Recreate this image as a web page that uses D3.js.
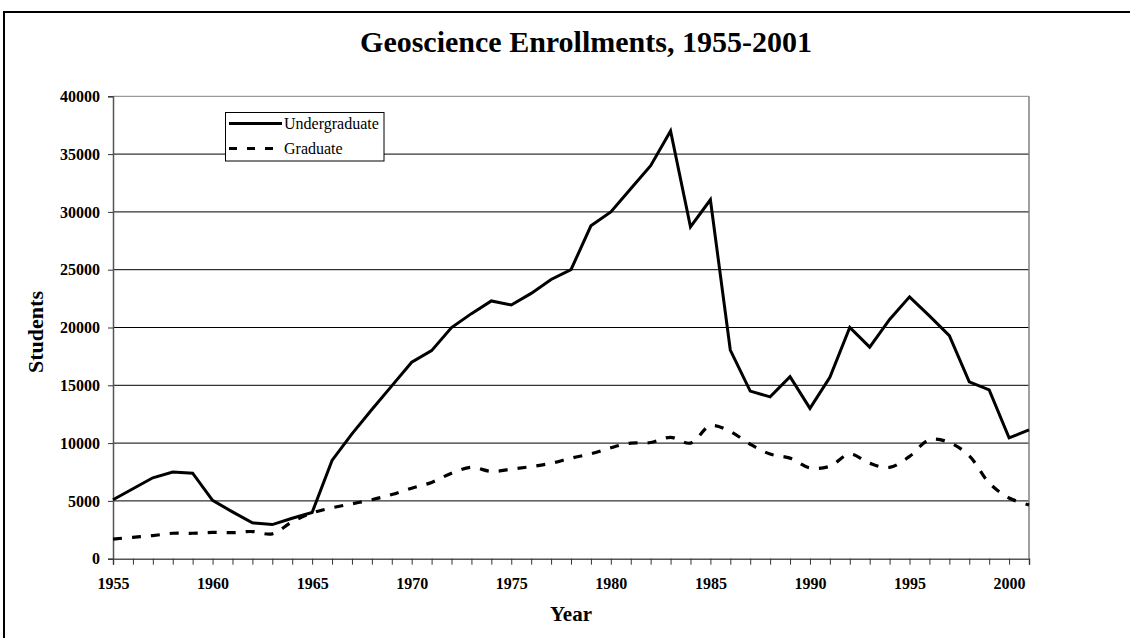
<!DOCTYPE html>
<html>
<head>
<meta charset="utf-8">
<script src="https://cdn.jsdelivr.net/npm/d3@7"></script>
<style>
  body { margin: 0; background: #fff; }
  svg { display: block; font-family: "Liberation Serif", "Times New Roman", serif; }
</style>
</head>
<body>
<svg id="chart" width="1130" height="638"></svg>
<script>
// data
var years = [1955, 1956, 1957, 1958, 1959, 1960, 1961, 1962, 1963, 1964,
             1965, 1966, 1967, 1968, 1969, 1970, 1971, 1972, 1973, 1974,
             1975, 1976, 1977, 1978, 1979, 1980, 1981, 1982, 1983, 1984,
             1985, 1986, 1987, 1988, 1989, 1990, 1991, 1992, 1993, 1994,
             1995, 1996, 1997, 1998, 1999, 2000, 2001];
var undergraduate = [5100, 6050, 7000, 7500, 7400, 5050, 4050, 3100, 2950, 3500,
                     4000, 8500, 10800, 12900, 14950, 17000, 18000, 20000, 21200, 22300,
                     21950, 22950, 24150, 25000, 28800, 30000, 32000, 34000, 37000, 28700,
                     31050, 18050, 14500, 14000, 15750, 13000, 15700, 20000, 18300, 20700,
                     22650, 21000, 19300, 15300, 14600, 10450, 11150];
var graduate = [1700, 1850, 2000, 2200, 2200, 2270, 2250, 2350, 2150, 3200,
                3950, 4400, 4750, 5100, 5550, 6100, 6600, 7400, 7900, 7550,
                7750, 7970, 8250, 8700, 9070, 9600, 10000, 10050, 10500, 10000,
                11500, 11000, 9900, 9050, 8700, 7850, 8000, 9050, 8250, 7900,
                8850, 10300, 10050, 8900, 6550, 5250, 4650];
var xTickLabels = [1955, 1960, 1965, 1970, 1975, 1980, 1985, 1990, 1995, 2000];
var yTickValues = [0, 5000, 10000, 15000, 20000, 25000, 30000, 35000, 40000];
var seriesNames = ["Undergraduate", "Graduate"];

var svg = d3.select("#chart");
var plotLeft = 113, plotRight = 1029, plotTop = 96.3, plotBottom = 558.7;

// outer frame
svg.append("rect")
    .attr("x", 4).attr("y", 12)
    .attr("width", 1140).attr("height", 700)
    .attr("fill", "none")
    .attr("stroke", "#000")
    .attr("stroke-width", 2);

var x = d3.scaleLinear().domain([1955, 2001]).range([plotLeft, plotRight]);
var y = d3.scaleLinear().domain([0, 40000]).range([plotBottom, plotTop]);

// gridlines
svg.append("g")
    .selectAll("line")
    .data(yTickValues.slice(1))
    .enter().append("line")
      .attr("x1", plotLeft).attr("x2", plotRight)
      .attr("y1", function(d) { return y(d); })
      .attr("y2", function(d) { return y(d); })
      .attr("stroke", function(d) { return d == 40000 ? "#808080" : "#000"; })
      .attr("stroke-width", 1);

// right border of plot
svg.append("line")
    .attr("x1", plotRight).attr("x2", plotRight)
    .attr("y1", plotTop).attr("y2", plotBottom)
    .attr("stroke", "#808080").attr("stroke-width", 1.5);

// y axis
var yAxis = d3.axisLeft(y).tickValues(yTickValues).tickSize(5).tickPadding(8)
    .tickFormat(d3.format("d"));
var gy = svg.append("g")
    .attr("transform", "translate(" + plotLeft + ",0)")
    .call(yAxis);

// x axis: a tick every year, labels every five
var xAxis = d3.axisBottom(x).tickValues(years).tickSize(6).tickPadding(13)
    .tickFormat(function(d) { return xTickLabels.indexOf(d) >= 0 ? d : ""; });
var gx = svg.append("g")
    .attr("transform", "translate(0," + plotBottom + ")")
    .call(xAxis);

[gx, gy].forEach(function(g) {
    g.select(".domain").attr("stroke", "#555").attr("stroke-width", 1.5);
    g.selectAll(".tick line").attr("stroke", "#333");
    g.selectAll("text")
        .attr("fill", "#000")
        .style("font-family", "Liberation Serif, serif")
        .style("font-size", "16px")
        .style("font-weight", "bold");
});

// lines
var lineStraight = d3.line()
    .x(function(d, i) { return x(years[i]); })
    .y(function(d) { return y(d); });
var lineSmooth = d3.line()
    .x(function(d, i) { return x(years[i]); })
    .y(function(d) { return y(d); })
    .curve(d3.curveCatmullRom.alpha(0.5));

svg.append("path")
    .datum(undergraduate)
    .attr("d", lineStraight)
    .attr("fill", "none")
    .attr("stroke", "#000")
    .attr("stroke-width", 3)
    .attr("stroke-linejoin", "miter");

svg.append("path")
    .datum(graduate)
    .attr("d", lineSmooth)
    .attr("fill", "none")
    .attr("stroke", "#000")
    .attr("stroke-width", 3.2)
    .attr("stroke-dasharray", "9,10");

// title
svg.append("text")
    .attr("x", 586).attr("y", 52)
    .attr("text-anchor", "middle")
    .style("font-size", "30px")
    .style("font-weight", "bold")
    .text("Geoscience Enrollments, 1955-2001");

// axis titles
svg.append("text")
    .attr("x", (plotLeft + plotRight) / 2).attr("y", 621)
    .attr("text-anchor", "middle")
    .style("font-size", "21px")
    .style("font-weight", "bold")
    .text("Year");

svg.append("g")
    .attr("transform", "translate(43," + 332 + ")")
    .append("text")
    .attr("text-anchor", "middle")
    .attr("transform", "rotate(-90)")
    .style("font-size", "22px")
    .style("font-weight", "bold")
    .text("Students");

// legend
var legend = svg.append("g");
legend.append("rect")
    .attr("x", 225.5).attr("y", 112.5)
    .attr("width", 158.5).attr("height", 48.5)
    .attr("fill", "#fff")
    .attr("stroke", "#000")
    .attr("stroke-width", 1);

var legendRows = legend.selectAll("g.row")
    .data(seriesNames)
    .enter().append("g")
      .attr("class", "row")
      .attr("transform", function(d, i) { return "translate(0," + (123.5 + i * 25) + ")"; });

legendRows.append("line")
    .attr("x1", 229).attr("x2", 282)
    .attr("y1", 0).attr("y2", 0)
    .attr("stroke", "#000")
    .attr("stroke-width", 3)
    .attr("stroke-dasharray", function(d, i) { return i == 1 ? "8,10" : null; });

legendRows.append("text")
    .attr("x", 284).attr("y", 5.5)
    .style("font-size", "16px")
    .text(function(d) { return d; });
</script>
</body>
</html>
